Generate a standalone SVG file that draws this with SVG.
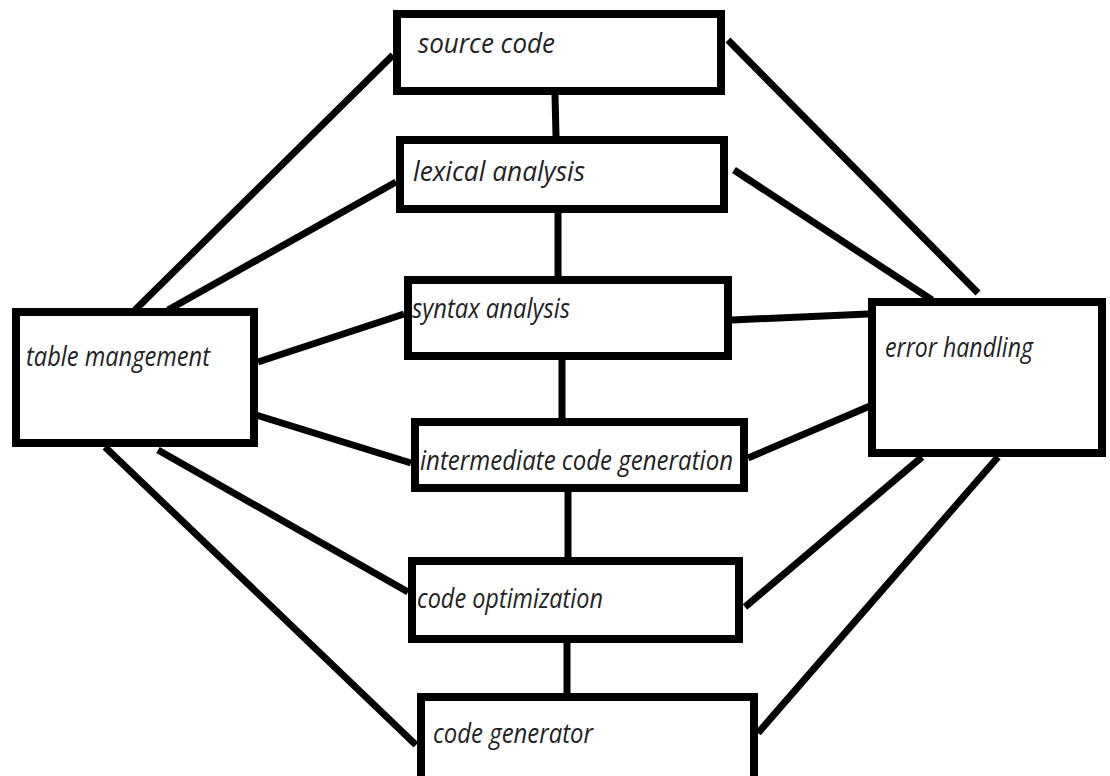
<svg xmlns="http://www.w3.org/2000/svg" width="1110" height="776" viewBox="0 0 1110 776">
<style>
.box{fill:#fff;stroke:#000;stroke-width:8}
.lbl{font-family:"Open Sans","Noto Sans","Liberation Sans",sans-serif;font-style:italic;font-size:28px;fill:#222}
.con line{stroke:#000;stroke-width:7;stroke-linecap:butt}
</style>
<rect width="1110" height="776" fill="#fff"/>
<g class="con" id="connectors">
<line x1="555" y1="95" x2="556" y2="136"/>
<line x1="558" y1="212" x2="558" y2="276"/>
<line x1="562" y1="360" x2="562" y2="418"/>
<line x1="568" y1="492" x2="568" y2="557"/>
<line x1="567" y1="643" x2="567" y2="693"/>
<line x1="393" y1="55" x2="135" y2="310"/>
<line x1="396" y1="182" x2="168" y2="310"/>
<line x1="404" y1="314" x2="258" y2="362"/>
<line x1="411" y1="463" x2="256" y2="415"/>
<line x1="105" y1="447" x2="416" y2="745"/>
<line x1="158" y1="450" x2="408" y2="592"/>
<line x1="728" y1="40" x2="978" y2="293"/>
<line x1="734" y1="170" x2="932" y2="300"/>
<line x1="732" y1="320" x2="868" y2="314"/>
<line x1="748" y1="458" x2="870" y2="406"/>
<line x1="922" y1="457" x2="745" y2="607"/>
<line x1="998" y1="457" x2="758" y2="733"/>
</g>
<g id="source-code"><rect class="box" x="397" y="14" width="324" height="77"/><text class="lbl" x="418" y="53" textLength="137" lengthAdjust="spacingAndGlyphs">source code</text></g>
<g id="lexical-analysis"><rect class="box" x="400" y="140" width="324" height="69"/><text class="lbl" x="413" y="181" textLength="172" lengthAdjust="spacingAndGlyphs">lexical analysis</text></g>
<g id="syntax-analysis"><rect class="box" x="408" y="280" width="320" height="76"/><text class="lbl" x="412" y="318" textLength="158" lengthAdjust="spacingAndGlyphs">syntax analysis</text></g>
<g id="table-mangement"><rect class="box" x="16" y="312" width="238" height="131"/><text class="lbl" x="26" y="366" textLength="184" lengthAdjust="spacingAndGlyphs">table mangement</text></g>
<g id="error-handling"><rect class="box" x="872" y="302" width="230" height="151"/><text class="lbl" x="885" y="357" textLength="148" lengthAdjust="spacingAndGlyphs">error handling</text></g>
<g id="intermediate-code-generation"><rect class="box" x="415" y="422" width="329" height="66"/><text class="lbl" x="420" y="470" textLength="313" lengthAdjust="spacingAndGlyphs">intermediate code generation</text></g>
<g id="code-optimization"><rect class="box" x="412" y="561" width="327" height="78"/><text class="lbl" x="417" y="608" textLength="186" lengthAdjust="spacingAndGlyphs">code optimization</text></g>
<g id="code-generator"><rect class="box" x="421" y="697" width="333" height="95"/><text class="lbl" x="433" y="743" textLength="160" lengthAdjust="spacingAndGlyphs">code generator</text></g>
</svg>
